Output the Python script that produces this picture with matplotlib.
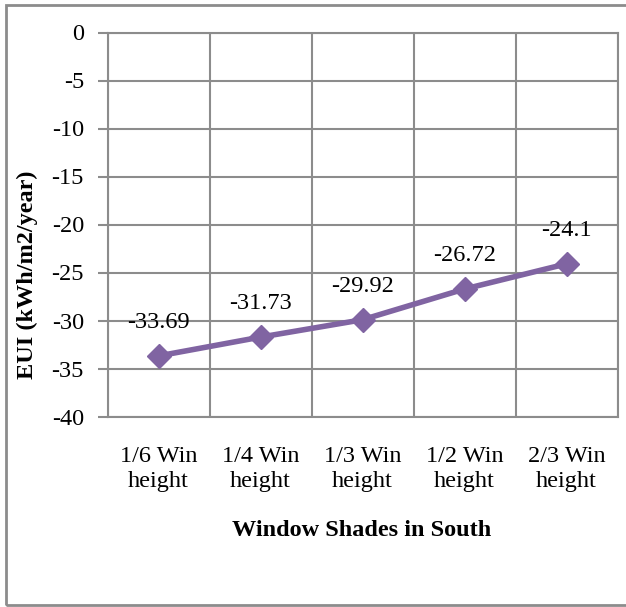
import matplotlib
matplotlib.use("Agg")
import matplotlib.pyplot as plt
from matplotlib.patches import Rectangle

categories = ["1/6 Win\nheight", "1/4 Win\nheight", "1/3 Win\nheight", "1/2 Win\nheight", "2/3 Win\nheight"]
eui = [-33.69, -31.73, -29.92, -26.72, -24.1]
value_labels = ["-33.69", "-31.73", "-29.92", "-26.72", "-24.1"]
y_ticks = [0, -5, -10, -15, -20, -25, -30, -35, -40]

plt.rcParams["font.family"] = ["Liberation Serif", "DejaVu Serif"]

W, H, DPI = 626, 607, 100
FS = 17.5
fig = plt.figure(figsize=(W / DPI, H / DPI), dpi=DPI)

# outer chart frame
fig.patches.append(Rectangle((5.5 / W, 2.5 / H), (W + 5) / W, (602.5 - 2.5) / H,
                             transform=fig.transFigure, fill=False,
                             edgecolor="#8c8c8c", linewidth=2.0))

left, right, top, bottom = 107.5, 617.5, 32.5, 416.5
ax = fig.add_axes([left / W, 1 - bottom / H, (right - left) / W, (bottom - top) / H])

grid_c = "#8c8c8c"
x = list(range(1, len(categories) + 1))
ax.set_xlim(0.5, len(categories) + 0.5)
ax.set_ylim(-40, 0)

for v in y_ticks:
    ax.axhline(v, color=grid_c, linewidth=1.5, zorder=1)
for b in [i + 0.5 for i in range(len(categories) + 1)]:
    ax.axvline(b, color=grid_c, linewidth=1.5, zorder=1)

for s in ax.spines.values():
    s.set_color(grid_c)
    s.set_linewidth(1.5)

ax.set_yticks(y_ticks)
ax.set_yticklabels([str(v) for v in y_ticks])
ax.tick_params(axis="y", length=7, width=1.5, color=grid_c, labelsize=FS, pad=10)
ax.set_xticks(x)
ax.set_xticklabels(categories, linespacing=1.3)
ax.tick_params(axis="x", length=0, labelsize=FS, pad=21)

ax.plot(x, eui, color="#8064A2", linewidth=4, marker="D", markersize=12,
        markeredgecolor="#8064A2", zorder=3, clip_on=False)

for xi, yi, lab in zip(x, eui, value_labels):
    ax.annotate(lab, (xi, yi), xytext=(0, 24), textcoords="offset points",
                ha="center", va="center", fontsize=FS, zorder=4)

fig.text(362 / W, 1 - 530 / H, "Window Shades in South", ha="center", va="center",
         fontsize=FS, fontweight="bold")
fig.text(27 / W, 1 - 275 / H, "EUI (kWh/m2/year)", ha="center", va="center",
         rotation=90, fontsize=FS, fontweight="bold")

fig.savefig("out.png", dpi=DPI)
